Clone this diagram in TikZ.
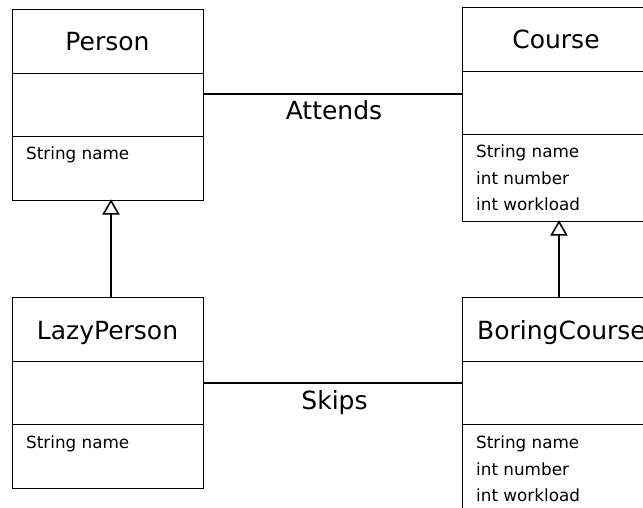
\documentclass[tikz,border=0pt]{standalone}
\usepackage{fontspec}
\setmainfont{DejaVu Sans}
\tikzset{
  classbox/.style={draw, line width=0.9pt, inner sep=0pt, anchor=north west, fill=none},
  divider/.style={line width=0.9pt},
  titletext/.style={font=\fontsize{25}{30}\selectfont, anchor=base, inner sep=0pt},
  attrtext/.style={font=\fontsize{16.8}{20}\selectfont, anchor=base west, inner sep=0pt},
  assoc/.style={line width=2pt},
  labeltext/.style={font=\fontsize{25}{30}\selectfont, anchor=base, inner sep=0pt},
  inherit/.style={line width=2pt},
  headtri/.style={draw, fill=white, line width=1.6pt, line join=miter}
}
\begin{document}
\begin{tikzpicture}[x=1pt,y=-1pt]
\useasboundingbox (0,0) rectangle (643,508);
\clip (0,0) rectangle (643,508);
% boxes
\node[classbox, minimum width=191pt, minimum height=191pt] (person) at (12,9) {};
\node[classbox, minimum width=190pt, minimum height=214pt] (course) at (462,7) {};
\node[classbox, minimum width=191pt, minimum height=191pt] (lazy) at (12,297) {};
\node[classbox, minimum width=190pt, minimum height=240pt] (boring) at (462,297) {};
% dividers
\draw[divider] (12,73) -- (203,73);
\draw[divider] (12,136) -- (203,136);
\draw[divider] (462,71) -- (652,71);
\draw[divider] (462,134) -- (652,134);
\draw[divider] (12,361) -- (203,361);
\draw[divider] (12,424) -- (203,424);
\draw[divider] (462,361) -- (652,361);
\draw[divider] (462,424) -- (652,424);
% titles
\node[titletext] (personT) at (107.5,51) {Person};
\node[titletext] (courseT) at (556,49) {Course};
\node[titletext] (lazyT) at (107.5,339) {LazyPerson};
\node[titletext] (boringT) at (561.5,339) {BoringCourse};
% attributes
\node[attrtext] (pa1) at (26,160) {String name};
\node[attrtext] (ca1) at (476,158) {String name};
\node[attrtext] (ca2) at (476,185) {int number};
\node[attrtext] (ca3) at (476,211) {int workload};
\node[attrtext] (la1) at (26,448) {String name};
\node[attrtext] (ba1) at (476,448) {String name};
\node[attrtext] (ba2) at (476,475) {int number};
\node[attrtext] (ba3) at (476,501) {int workload};
% associations
\coordinate (pa) at (person.east |- 0,94);
\coordinate (ca) at (course.west |- 0,94);
\draw[assoc] (pa) -- (ca);
\node[labeltext] (attends) at (334,120) {Attends};
\coordinate (ls) at (lazy.east |- 0,383);
\coordinate (bs) at (boring.west |- 0,383);
\draw[assoc] (ls) -- (bs);
\node[labeltext] (skips) at (334.5,409) {Skips};
% inheritance
\coordinate (lazyTop) at (lazy.north -| 111,0);
\coordinate (personBot) at (person.south -| 111,0);
\coordinate (personBase) at ([yshift=-13pt]personBot);
\draw[inherit] (lazyTop) -- (personBase);
\draw[headtri] (personBot) -- ([xshift=-7.5pt]personBase) -- ([xshift=7.5pt]personBase) -- cycle;
\coordinate (boringTop) at (boring.north -| 559,0);
\coordinate (courseBot) at (course.south -| 559,0);
\coordinate (courseBase) at ([yshift=-13pt]courseBot);
\draw[inherit] (boringTop) -- (courseBase);
\draw[headtri] (courseBot) -- ([xshift=-7.5pt]courseBase) -- ([xshift=7.5pt]courseBase) -- cycle;
\end{tikzpicture}
\end{document}
